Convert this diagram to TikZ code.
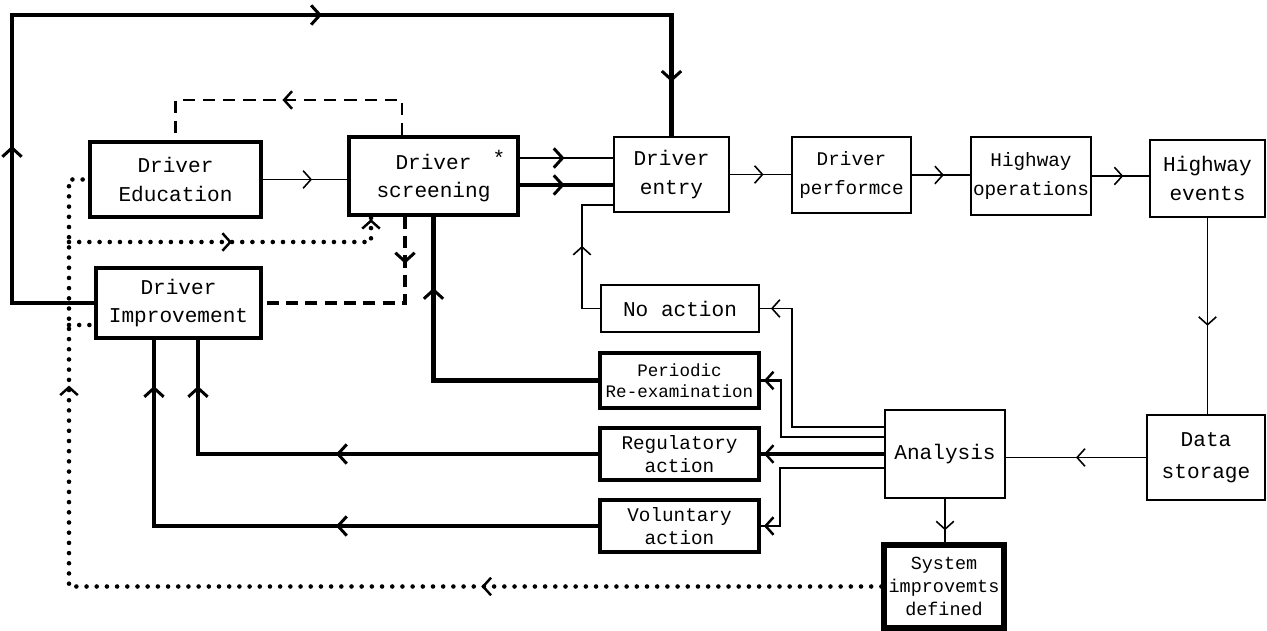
\documentclass[tikz,border=0pt]{standalone}
\usepackage{fontspec}
\setmonofont{Liberation Mono}
\usetikzlibrary{arrows.meta,decorations.markings}
\begin{document}
\begin{tikzpicture}[x=0.02cm,y=-0.02cm,
  chv/.tip={Straight Barb[length=4.5pt,width=10pt]},
  chvt/.tip={Straight Barb[length=5pt,width=11pt,line width=1.7pt]},
  chvd/.tip={Straight Barb[length=4.5pt,width=10pt,line width=1.4pt]},
  ar/.style={postaction={decorate,decoration={markings,mark=at position #1 with {\arrow{chv}}}}},
  art/.style={postaction={decorate,decoration={markings,mark=at position #1 with {\arrow{chvt}}}}},
  ard/.style={postaction={decorate,decoration={markings,mark=at position #1 with {\arrow{chvd}}}}},
  box/.style={draw,line width=1.3pt,inner sep=1pt,align=center,font=\ttfamily\fontsize{12}{16}\selectfont},
  hbox/.style={box,line width=2.4pt},
  thinl/.style={line width=0.9pt},
  medl/.style={line width=1.6pt},
  heavyl/.style={line width=2.3pt},
  dotl/.style={line width=2.6pt,line cap=round,dash pattern=on 0pt off 5.8pt},
  dashl/.style={line width=1.2pt,dash pattern=on 7pt off 4.5pt},
  dashh/.style={line width=2.8pt,dash pattern=on 7pt off 4pt},
]
\useasboundingbox (0,0) rectangle (1267,631);

% boxes
\node[hbox,minimum width=3.42cm,minimum height=1.5cm] (edu) at (175.5,179.5) {Driver\\Education};
\node[box,line width=1.8pt,minimum width=3.38cm,minimum height=1.56cm] (scr) at (433.5,176) {Driver\rlap{\quad\raisebox{2pt}{*}}\\screening};
\node[box,minimum width=2.3cm,minimum height=1.5cm] (ent) at (671.5,174.5) {Driver\\entry};
\node[box,minimum width=2.38cm,minimum height=1.52cm,font=\ttfamily\fontsize{11}{16}\selectfont] (perf) at (851.5,175) {Driver\\performce};
\node[box,minimum width=2.4cm,minimum height=1.56cm,font=\ttfamily\fontsize{11}{16}\selectfont] (hop) at (1031,176) {Highway\\operations};
\node[box,minimum width=2.3cm,minimum height=1.54cm] (hev) at (1207.5,178.5) {Highway\\events};
\node[hbox,minimum width=3.3cm,minimum height=1.4cm] (imp) at (178.5,303) {Driver\\Improvement};
\node[box,minimum width=3.16cm,minimum height=0.94cm] (noa) at (680,308.5) {No action};
\node[hbox,minimum width=3.18cm,minimum height=1.1cm,font=\ttfamily\fontsize{10}{12}\selectfont] (per) at (679.5,380.5) {Periodic\\Re-examination};
\node[hbox,minimum width=3.18cm,minimum height=1.04cm,font=\ttfamily\fontsize{11}{13}\selectfont] (reg) at (679.5,454) {Regulatory\\action};
\node[hbox,minimum width=3.18cm,minimum height=1.04cm,font=\ttfamily\fontsize{11}{13}\selectfont] (vol) at (679.5,526) {Voluntary\\action};
\node[box,minimum width=2.4cm,minimum height=1.76cm] (ana) at (945,454) {Analysis};
\node[box,minimum width=2.36cm,minimum height=1.7cm,font=\ttfamily\fontsize{12}{18}\selectfont] (dat) at (1206,457.5) {Data\\storage};
\node[hbox,line width=3pt,minimum width=2.4cm,minimum height=1.66cm,font=\ttfamily\fontsize{10.5}{13}\selectfont] (sys) at (944,586.5) {System\\improvemts\\defined};

% helper coordinates
\coordinate (tl) at (12,15);
\coordinate (dx) at (69,0);
\coordinate (b1) at (69,242);
\coordinate (b2) at (69,325);
\coordinate (tt) at (0,100);
\coordinate (cn) at (792,0);
\coordinate (cp) at (781,0);
\coordinate (cv) at (780,0);
\coordinate (ce) at (582,0);
\coordinate (dt) at ([xshift=-0.63cm]scr.north);
\coordinate (sb) at ([xshift=-1.25cm]scr.south);
\coordinate (sd) at ([xshift=-0.57cm]scr.south);
\coordinate (s1) at ([yshift=0.36cm]scr.east);
\coordinate (s2) at ([yshift=-0.18cm]scr.east);
\coordinate (e1) at ([yshift=-0.61cm]ent.west);
\coordinate (a1) at ([yshift=0.54cm]ana.west);
\coordinate (a2) at ([yshift=0.34cm]ana.west);
\coordinate (a3) at ([yshift=-0.28cm]ana.west);

% main chain
\draw[thinl,ar=0.55] (ent.east) -- (ent.east -| perf.west);
\draw[thinl,ar=0.55] (perf.east) -- (perf.east -| hop.west);
\draw[thinl,ar=0.55] (hop.east) -- (hop.east -| hev.west);
\draw[thinl,ar=0.55] (hev.south) -- (hev.south |- dat.north);
\draw[thinl,ar=0.5] (dat.west) -- (dat.west -| ana.east);
\draw[thinl,ar=0.72] (ana.south) -- (ana.south |- sys.north);
\draw[thinl,ar=0.98cm] (edu.east) -- (edu.east -| scr.west);
\draw[medl,art=0.9cm] (s1) -- (s1 -| ent.west);
\draw[heavyl,art=0.9cm] (s2) -- (s2 -| ent.west);

% top feedback loop
\draw[heavyl,art=4.78cm,art=13.6cm,art=21.93cm] (imp.west) -- (imp.west -| tl) -- (tl) -- (tl -| ent.north) -- (ent.north);

% dashed loops
\draw[dashl,ard=3.1cm] (dt) -- (dt |- tt) -- (edu.north |- tt) -- (edu.north);
\draw[dashh,art=0.94cm] (sd) |- (imp.east);

% analysis outputs
\draw[thinl,ar=4.63cm] (a1) -- (a1 -| cn) |- (noa.east);
\draw[medl,ard=3.53cm] (a2) -- (a2 -| cp) |- (per.east);
\draw[heavyl,ard=2.4cm] (ana.west) -- (reg.east);
\draw[medl,ard=3.56cm] (a3) -- (a3 -| cv) |- (vol.east);

% returns
\draw[thinl,ar=1.61cm] (noa.west) -- (noa.west -| ce) -- (ce |- e1) -- (e1);
\draw[heavyl,art=5.14cm] (per.west) -| (scr.south);
\draw[heavyl,art=5.24cm,art=9.36cm] (reg.west) -| ([xshift=0.39cm]imp.south);
\draw[heavyl,art=5.24cm,art=11.68cm] (vol.west) -| ([xshift=-0.49cm]imp.south);

% dotted system improvement loop
\draw[dotl,ard=8cm,ard=20.27cm,ard=24.8cm] (sys.west) -- (sys.west -| dx) -- (edu.west -| dx) -- (edu.west);
\draw[dotl,ard=3.26cm,ard=6.5cm] (b1) -- (b1 -| sb) -- (sb);
\draw[dotl,ard=0.5cm] (b2) -- (b2 -| imp.west);
\end{tikzpicture}
\end{document}
